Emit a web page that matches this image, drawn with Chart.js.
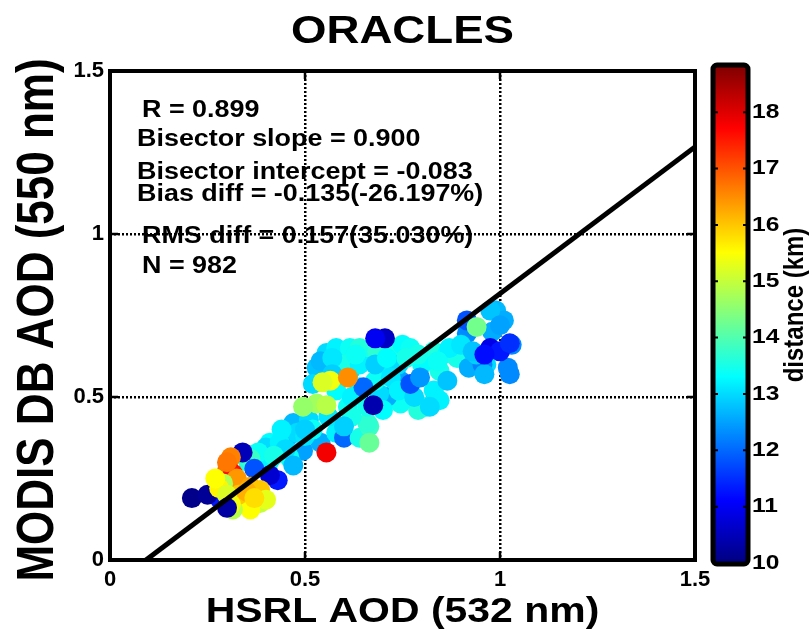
<!DOCTYPE html>
<html><head><meta charset="utf-8">
<script src="https://cdn.jsdelivr.net/npm/chart.js@4/dist/chart.umd.min.js"></script>
<style>html,body{margin:0;padding:0;background:#fff;}canvas{display:block;}</style>
</head><body>
<canvas id="c" width="811" height="643"></canvas>
<script>
// ---- data ----
const hsrlAOD = [
 0.41,0.47,0.51,0.455,0.495,0.54,0.58,0.60,0.64,0.665,0.665,0.61,0.64,0.53,0.555,0.54,0.58,0.615,0.64,0.66,
 0.685,0.72,0.75,0.77,0.83,0.865,0.615,0.60,0.745,0.81,0.79,0.745,0.71,0.69,0.83,0.845,0.865,0.41,0.40,0.435,
 0.48,0.46,0.355,0.66,0.70,0.74,0.80,0.68,0.56,0.58,0.845,0.82,0.89,0.87,0.965,0.92,1.02,1.025,1.03,0.955,
 0.915,0.99,1.01,0.975,0.50,0.52,0.62,0.72,0.76,0.64,0.68,0.45,0.38,0.90,0.94,0.60,
 0.57,0.63,0.71,0.79,0.84,0.74,0.78,0.70,0.66,0.62,0.57,0.52,0.50,0.44,0.42,0.47,0.36,0.93,0.98,1.0,0.96,
 0.77,0.795,0.65,0.915,0.975,1.0,1.025,0.96,0.37,0.43,0.28,
 0.705,0.68,0.675,0.41,0.34,0.21,0.25,
 0.94,
 0.31,0.30,0.315,0.325,0.29,0.36,0.385,0.34,0.385,0.36,0.315,0.40,0.28,
 0.33,0.30,0.35,0.37,0.31,0.27,0.30,
 0.30,
 0.53,0.555,0.495,0.565,0.545,0.61,0.555
];
const modisAOD = [
 0.36,0.42,0.43,0.375,0.335,0.36,0.39,0.375,0.375,0.41,0.36,0.47,0.53,0.59,0.635,0.61,0.65,0.65,0.65,0.62,
 0.64,0.65,0.66,0.65,0.64,0.635,0.58,0.60,0.55,0.47,0.46,0.48,0.50,0.51,0.52,0.58,0.55,0.305,0.345,0.36,
 0.39,0.315,0.30,0.42,0.58,0.60,0.60,0.55,0.44,0.52,0.49,0.47,0.62,0.65,0.60,0.59,0.59,0.57,0.66,0.60,
 0.695,0.765,0.735,0.765,0.38,0.40,0.44,0.56,0.62,0.60,0.60,0.34,0.33,0.66,0.63,0.41,
 0.62,0.63,0.62,0.63,0.61,0.52,0.50,0.46,0.47,0.50,0.57,0.54,0.40,0.40,0.32,0.29,0.31,0.64,0.70,0.72,0.57,
 0.54,0.56,0.53,0.735,0.65,0.64,0.665,0.63,0.28,0.245,0.19,
 0.68,0.68,0.475,0.26,0.33,0.19,0.20,
 0.715,
 0.315,0.275,0.265,0.25,0.235,0.225,0.215,0.185,0.175,0.155,0.155,0.185,0.22,
 0.20,0.20,0.21,0.19,0.17,0.25,0.30,
 0.16,
 0.48,0.475,0.47,0.55,0.545,0.56,0.33
];
const distanceKm = [
 13.3,12.7,13.0,12.8,12.5,12.6,13.2,12.0,13.5,13.8,14.2,13.4,13.3,12.8,13.0,12.7,13.2,13.4,13.6,13.5,
 13.7,13.6,13.3,13.4,13.6,13.3,13.0,13.5,12.5,13.4,13.6,13.4,12.6,13.0,13.2,13.5,12.8,13.2,13.0,13.2,
 13.0,13.4,13.6,13.7,13.2,13.0,13.3,13.4,13.1,13.3,13.2,13.0,13.5,13.2,13.0,12.6,12.3,12.3,12.3,12.2,
 12.3,12.7,12.6,12.8,13.1,13.4,13.5,13.1,13.5,13.2,12.9,13.0,13.4,13.1,12.9,12.9,
 13.1,13.4,13.3,13.5,13.4,13.2,13.0,13.3,13.5,13.2,12.9,13.0,12.9,13.2,13.5,12.7,13.8,12.8,12.6,12.5,12.7,
 11.8,12.4,12.0,11.8,10.9,11.3,11.5,11.2,11.8,11.3,11.3,
 10.6,11.0,10.4,10.7,10.5,10.1,10.2,
 14.3,
 16.6,16.8,17.6,16.4,14.8,16.3,16.0,15.6,15.0,15.5,14.9,15.3,15.6,
 16.0,15.2,16.2,15.8,15.4,15.5,16.7,
 10.3,
 14.7,14.9,14.6,15.4,15.2,16.5,17.8
];
const bisectorSlope = 0.900;
const bisectorIntercept = -0.083;
const axisTicks = [0, 0.5, 1, 1.5];
const gridValues = [0.5, 1];
const colorbarTicks = [10, 11, 12, 13, 14, 15, 16, 17, 18];
const colorMin = 10, colorMax = 18.82;
const statsLines = [
 "R = 0.899",
 "Bisector slope = 0.900",
 "Bisector intercept = -0.083",
 "Bias diff = -0.135(-26.197%)",
 "RMS diff = 0.157(35.030%)",
 "N = 982"
];
const chartTitle = "ORACLES";
const xTitle = "HSRL AOD (532 nm)";
const yTitle = "MODIS DB AOD (550 nm)";
const cbTitle = "distance (km)";

// ---- helpers ----
function clamp(v){return Math.max(0,Math.min(1,v));}
function jet(t){
  const r = clamp(Math.min(4*t-1.5, -4*t+4.5));
  const g = clamp(Math.min(4*t-0.5, -4*t+3.5));
  const b = clamp(Math.min(4*t+0.5, -4*t+2.5));
  return `rgb(${Math.round(r*255)},${Math.round(g*255)},${Math.round(b*255)})`;
}
function colorOf(d){return jet((d-colorMin)/(colorMax-colorMin));}
const FONT = '"Liberation Sans", Arial, Helvetica, sans-serif';
const STRETCH = 1.17;
function sText(ctx, s, x, y, size, align, rot, weight){
  ctx.save();
  ctx.font = `${weight||'bold'} ${size}px ${FONT}`;
  ctx.fillStyle = '#000';
  ctx.textAlign = align || 'left';
  ctx.textBaseline = 'middle';
  ctx.translate(x, y);
  ctx.scale(STRETCH, 1);
  if (rot) ctx.rotate(rot);
  ctx.fillText(s, 0, 0);
  ctx.restore();
}

const points = hsrlAOD.map((x,i)=>({x:x, y:modisAOD[i]}));
const pointColors = distanceKm.map(colorOf);
const lineStartX = -bisectorIntercept / bisectorSlope;
const lineEndX = axisTicks[axisTicks.length-1];
const bisectorLine = [lineStartX, lineEndX].map(x=>({x:x, y:bisectorSlope*x + bisectorIntercept}));

const decor = {
  id:'decor',
  beforeDraw(chart){
    const c = chart.ctx; c.save(); c.fillStyle='#fff'; c.fillRect(0,0,chart.width,chart.height); c.restore();
  },
  afterDraw(chart){
    const c = chart.ctx, a = chart.chartArea, xs = chart.scales.x, ys = chart.scales.y;
    c.save();
    c.strokeStyle='#000'; c.lineWidth=4;
    c.strokeRect(a.left, a.top, a.right-a.left, a.bottom-a.top);
    c.lineWidth=2.5;
    gridValues.forEach(v=>{
      const px = xs.getPixelForValue(v), py = ys.getPixelForValue(v);
      c.beginPath();
      c.moveTo(px, a.bottom); c.lineTo(px, a.bottom-8);
      c.moveTo(px, a.top); c.lineTo(px, a.top+8);
      c.moveTo(a.left, py); c.lineTo(a.left+8, py);
      c.moveTo(a.right, py); c.lineTo(a.right-8, py);
      c.stroke();
    });
    c.restore();
    const sx = [142,137,137,137,142,142];
    const sy = [111,140,173,195,237,267];
    statsLines.forEach((s,i)=>sText(c, s, sx[i], sy[i], 23, 'left'));
    sText(c, chartTitle, (a.left+a.right)/2, 32, 39, 'center');
    sText(c, xTitle, (a.left+a.right)/2, 612, 35, 'center');
    sText(c, yTitle, 39, 320, 44, 'center', -Math.PI/2);
    const cbL=714, cbR=747, cbT=66, cbB=563;
    const yOf = v => cbB - (v-colorMin)/(colorMax-colorMin)*(cbB-cbT);
    const g = c.createLinearGradient(0, cbB, 0, cbT);
    for (let i=0;i<=40;i++){ g.addColorStop(i/40, jet(i/40)); }
    c.save();
    c.fillStyle = g;
    c.fillRect(cbL, cbT, cbR-cbL, cbB-cbT);
    c.strokeStyle='#000'; c.lineWidth=5; c.lineJoin='round';
    c.beginPath();
    if (c.roundRect) c.roundRect(cbL-1, cbT-1, cbR-cbL+2, cbB-cbT+2, 4); else c.rect(cbL-1, cbT-1, cbR-cbL+2, cbB-cbT+2);
    c.stroke();
    c.lineWidth=2;
    colorbarTicks.forEach(v=>{
      const y = yOf(v);
      c.beginPath(); c.moveTo(cbL, y); c.lineTo(cbL+4, y); c.moveTo(cbR, y); c.lineTo(cbR-4, y); c.stroke();
    });
    c.restore();
    colorbarTicks.forEach(v=>sText(c, String(v), 752, yOf(v), 21, 'left'));
    sText(c, cbTitle, 795, 305, 24, 'center', -Math.PI/2);
  }
};

const tickFont = {size:22, weight:'bold', family:FONT};
function gridColor(ctx){ return (ctx.tick && gridValues.includes(ctx.tick.value)) ? '#000' : 'rgba(0,0,0,0)'; }

new Chart(document.getElementById('c'), {
  type:'scatter',
  data:{datasets:[
    {type:'line', data:bisectorLine, borderColor:'#000', borderWidth:5, pointRadius:0, fill:false, tension:0, showLine:true},
    {data:points, pointRadius:10, pointBackgroundColor:pointColors, backgroundColor:pointColors, pointBorderWidth:0, borderWidth:0, pointHoverRadius:10}
  ]},
  options:{
    responsive:false, animation:false, events:[],
    plugins:{legend:{display:false}, tooltip:{enabled:false}},
    layout:{padding:{top:71, right:116, left:0, bottom:0}},
    scales:{
      x:{type:'linear', min:0, max:1.5,
         afterBuildTicks:s=>{s.ticks = axisTicks.map(v=>({value:v}));},
         ticks:{font:tickFont, color:'#000', padding:7, maxRotation:0, autoSkip:false, callback:v=>String(v)},
         grid:{color:gridColor, lineWidth:2.5, drawTicks:false},
         border:{display:false, dash:[2,2]},
         afterFit:s=>{s.height=83;}},
      y:{type:'linear', min:0, max:1.5,
         afterBuildTicks:s=>{s.ticks = axisTicks.map(v=>({value:v}));},
         ticks:{font:tickFont, color:'#000', padding:6, autoSkip:false, callback:v=>String(v)},
         grid:{color:gridColor, lineWidth:2.5, drawTicks:false},
         border:{display:false, dash:[2,2]},
         afterFit:s=>{s.width=110;}}
    }
  },
  plugins:[decor]
});
</script>
</body></html>
